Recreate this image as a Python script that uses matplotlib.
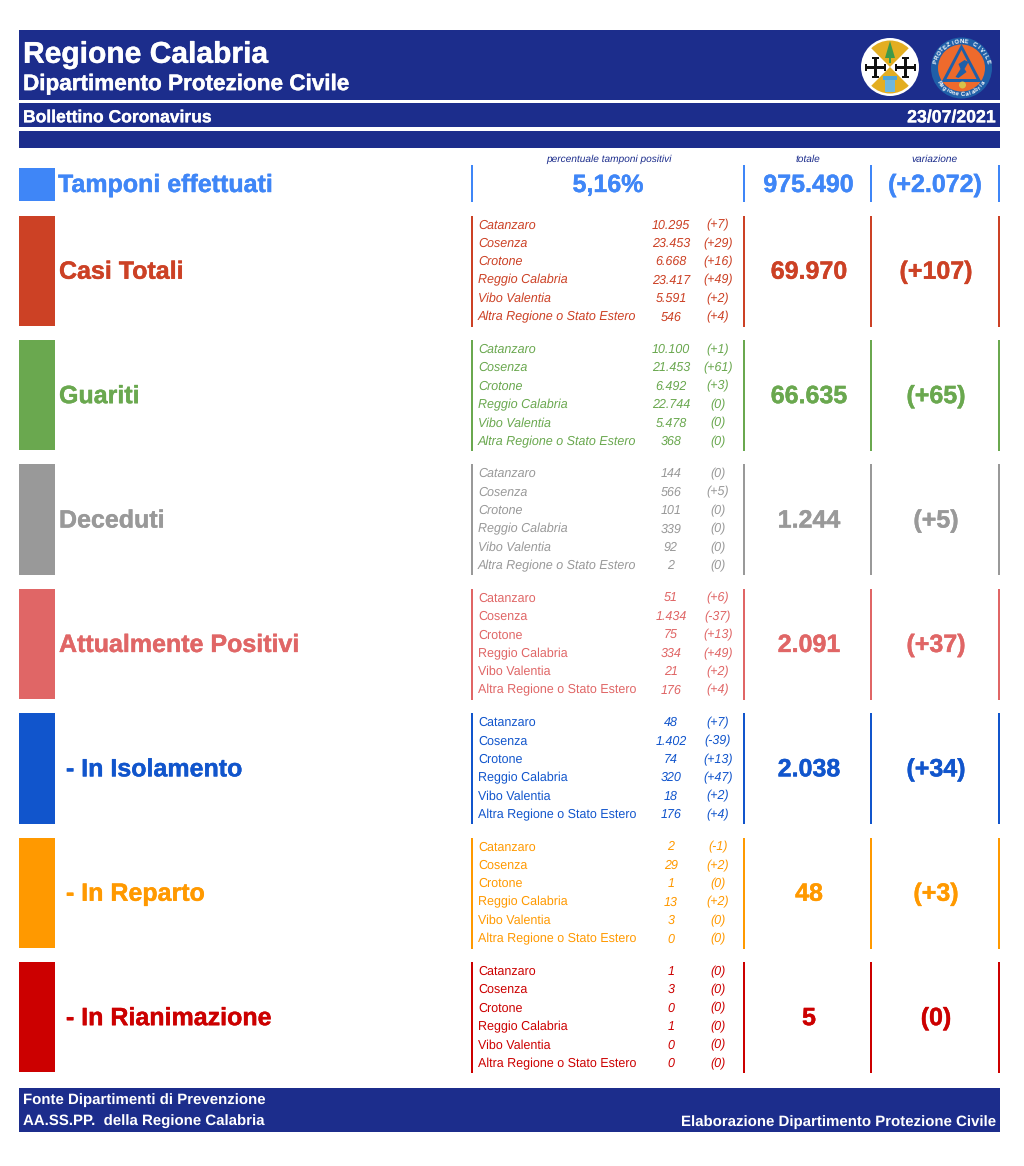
import numpy as np
import matplotlib
matplotlib.use("Agg")
import matplotlib.pyplot as plt
import matplotlib.patheffects as pe
from matplotlib.patches import Rectangle, Circle, Polygon, Wedge

plt.rcParams['font.family'] = ['Liberation Sans', 'DejaVu Sans']
plt.rcParams['text.hinting'] = 'no_hinting'

# dati del bollettino
province = ["Catanzaro", "Cosenza", "Crotone", "Reggio Calabria", "Vibo Valentia",
            "Altra Regione o Stato Estero"]

sezioni = ["Casi Totali", "Guariti", "Deceduti", "Attualmente Positivi",
           " - In Isolamento", " - In Reparto", " - In Rianimazione"]
totali = ["69.970", "66.635", "1.244", "2.091", "2.038", "48", "5"]
variazioni = ["(+107)", "(+65)", "(+5)", "(+37)", "(+34)", "(+3)", "(0)"]
colori = ["#CC4125", "#6AA84F", "#999999", "#E06666", "#1155CC", "#FF9900", "#CC0000"]

casi_val = ["10.295", "23.453", "6.668", "23.417", "5.591", "546"]
casi_var = ["(+7)", "(+29)", "(+16)", "(+49)", "(+2)", "(+4)"]
guariti_val = ["10.100", "21.453", "6.492", "22.744", "5.478", "368"]
guariti_var = ["(+1)", "(+61)", "(+3)", "(0)", "(0)", "(0)"]
deceduti_val = ["144", "566", "101", "339", "92", "2"]
deceduti_var = ["(0)", "(+5)", "(0)", "(0)", "(0)", "(0)"]
positivi_val = ["51", "1.434", "75", "334", "21", "176"]
positivi_var = ["(+6)", "(-37)", "(+13)", "(+49)", "(+2)", "(+4)"]
isolamento_val = ["48", "1.402", "74", "320", "18", "176"]
isolamento_var = ["(+7)", "(-39)", "(+13)", "(+47)", "(+2)", "(+4)"]
reparto_val = ["2", "29", "1", "13", "3", "0"]
reparto_var = ["(-1)", "(+2)", "(0)", "(+2)", "(0)", "(0)"]
rianimazione_val = ["1", "3", "0", "1", "0", "0"]
rianimazione_var = ["(0)", "(0)", "(0)", "(0)", "(0)", "(0)"]

valori = [casi_val, guariti_val, deceduti_val, positivi_val, isolamento_val,
          reparto_val, rianimazione_val]
var_prov = [casi_var, guariti_var, deceduti_var, positivi_var, isolamento_var,
            reparto_var, rianimazione_var]
nomi_corsivi = [True, True, True, False, False, False, False]

BLU = "#1C2D8C"
AZZURRO = "#3F86F7"

fig = plt.figure(figsize=(10.24, 11.66), dpi=100)
ax = fig.add_axes([0, 0, 1, 1])
ax.set_xlim(0, 1024)
ax.set_ylim(1166, 0)
ax.axis("off")


def rett(x0, y0, x1, y1, c, z=1):
    ax.add_patch(Rectangle((x0, y0), x1 - x0, y1 - y0, fc=c, ec="none", zorder=z))


def testo(x, y, s, px, c, ha="left", bold=False, it=False, spessore=0):
    # y e' il centro delle maiuscole: tutto sulla stessa linea di base
    t = ax.text(x, y + 0.36 * px, s, fontsize=px * 0.72, color=c, ha=ha, va="baseline",
                fontweight="bold" if bold else "normal",
                fontstyle="italic" if it else "normal", zorder=8)
    # il grassetto del riferimento e' piu' pesante
    if spessore:
        t.set_path_effects([pe.withStroke(linewidth=spessore, foreground=c)])


def anello(cx, cy, r, s, centro, passo, sotto=False):
    # scritta lungo il bordo del logo
    for k, ch in enumerate(s):
        a = centro + (k - (len(s) - 1) / 2) * passo * (1 if sotto else -1)
        ang = np.radians(a)
        rot = a + 90 if sotto else a - 90
        ax.text(cx + r * np.cos(ang), cy - r * np.sin(ang), ch, fontsize=4.3,
                color="white", fontweight="bold", ha="center", va="center",
                rotation=rot, zorder=8)


# intestazione
rett(19, 30, 1000, 100, BLU)
rett(19, 103, 1000, 127, BLU)
rett(19, 131, 1000, 148, BLU)
testo(23, 52, "Regione Calabria", 30, "white", bold=True, spessore=0.3)
testo(23, 82, "Dipartimento Protezione Civile", 22.5, "white", bold=True, spessore=0.3)
testo(23, 116, "Bollettino Coronavirus", 17.5, "white", bold=True, spessore=0.2)
testo(996, 116, "23/07/2021", 17.7, "white", ha="right", bold=True, spessore=0.2)

# stemma regione
cx, cy = 890, 67
ax.add_patch(Circle((cx, cy), 29, fc="white", ec="none", zorder=2))
ax.add_patch(Wedge((cx, cy), 26.5, 45, 135, fc="#E3AE22", ec="none", zorder=3))
ax.add_patch(Wedge((cx, cy), 26.5, 225, 315, fc="#E3AE22", ec="none", zorder=3))
ax.add_patch(Polygon([[cx - 5, cy - 9], [cx + 5, cy - 9], [cx, cy - 26]], fc="#3D9A4A", zorder=4))
rett(cx - 1, cy - 9, cx + 1, cy - 4, "#3D9A4A", 4)
rett(cx - 7, cy + 9, cx + 7, cy + 13, "#4FA6D8", 4)
rett(cx - 5, cy + 13, cx + 5, cy + 25, "#6DB7DE", 4)
for dx in (-15, 15):
    rett(cx + dx - 10, cy - 1.5, cx + dx + 10, cy + 1.5, "#111111", 4)
    rett(cx + dx - 1.5, cy - 10, cx + dx + 1.5, cy + 10, "#111111", 4)
    rett(cx + dx - 10.5, cy - 3.5, cx + dx - 8.5, cy + 3.5, "#111111", 4)
    rett(cx + dx + 8.5, cy - 3.5, cx + dx + 10.5, cy + 3.5, "#111111", 4)
    rett(cx + dx - 3.5, cy - 10.5, cx + dx + 3.5, cy - 8.5, "#111111", 4)
    rett(cx + dx - 3.5, cy + 8.5, cx + dx + 3.5, cy + 10.5, "#111111", 4)

# logo protezione civile
cx, cy = 961.5, 68
ax.add_patch(Circle((cx, cy), 30.5, fc="#1F5FA8", ec="none", zorder=2))
ax.add_patch(Circle((cx, cy), 23.5, fc="#EE6A2C", ec="none", zorder=3))
ax.add_patch(Polygon([[cx, cy - 24], [cx - 20, cy + 14], [cx + 20, cy + 14]], fc="#1F5FA8", zorder=4))
ax.add_patch(Polygon([[cx, cy - 18], [cx - 15, cy + 11], [cx + 15, cy + 11]], fc="#EE6A2C", zorder=5))
ax.add_patch(Polygon([[cx + 3, cy - 8], [cx + 7, cy - 6], [cx + 3, cy + 1], [cx + 5, cy + 4],
                      [cx - 3, cy + 10], [cx - 6, cy + 9], [cx - 1, cy + 1], [cx - 3, cy - 4]],
                     fc="#1F5FA8", zorder=6))
ax.add_patch(Circle((cx + 1, cy + 17), 3.5, fc="#D9C24A", ec="none", zorder=6))
anello(cx, cy, 26.5, "PROTEZIONE CIVILE", 90, 9.5)
anello(cx, cy, 26.5, "Regione Calabria", 270, 7.5, sotto=True)

# riga tamponi
testo(609, 158, "percentuale tamponi positivi", 10.1, "#1C2D8C", ha="center", it=True)
testo(808, 158, "totale", 10.1, "#1C2D8C", ha="center", it=True)
testo(935, 158, "variazione", 10.1, "#1C2D8C", ha="center", it=True)
rett(19, 168, 55, 201, AZZURRO)
testo(58, 183, "Tamponi effettuati", 25, AZZURRO, bold=True, spessore=0.3)
testo(608, 183, "5,16%", 25, AZZURRO, ha="center", bold=True, spessore=0.3)
testo(808.5, 183, "975.490", 25, AZZURRO, ha="center", bold=True, spessore=0.3)
testo(935, 183, "(+2.072)", 25, AZZURRO, ha="center", bold=True, spessore=0.3)
for x in (472, 744, 871, 999):
    rett(x - 1.2, 165, x + 1.2, 202, AZZURRO)

# sezioni
for i, nome in enumerate(sezioni):
    c = colori[i]
    y0 = 215.5 + i * 124.4
    y1 = y0 + 110.5
    ym = (y0 + y1) / 2 - 1
    rett(19, y0, 55, y1, c)
    testo(59, ym, nome, 25, c, bold=True, spessore=0.3)
    testo(809, ym, totali[i], 25, c, ha="center", bold=True, spessore=0.3)
    testo(936, ym, variazioni[i], 25, c, ha="center", bold=True, spessore=0.3)
    for x in (472, 744, 871, 999):
        rett(x - 1.2, y0, x + 1.2, y1 + 0.5, c)
    for j, prov in enumerate(province):
        yr = y0 + 8.5 + j * 18.4
        testo(478, yr, prov, 12.5, c, it=nomi_corsivi[i])
        testo(671, yr, valori[i][j], 12.5, c, ha="center", it=True)
        testo(718, yr, var_prov[i][j], 12.5, c, ha="center", it=True)

# piede
rett(19, 1088, 1000, 1132, BLU)
testo(23, 1098, "Fonte Dipartimenti di Prevenzione", 15, "white", bold=True)
testo(23, 1120, "AA.SS.PP.  della Regione Calabria", 15, "white", bold=True)
testo(996, 1120, "Elaborazione Dipartimento Protezione Civile", 15, "white", ha="right", bold=True)

fig.savefig("out.png", dpi=100)
